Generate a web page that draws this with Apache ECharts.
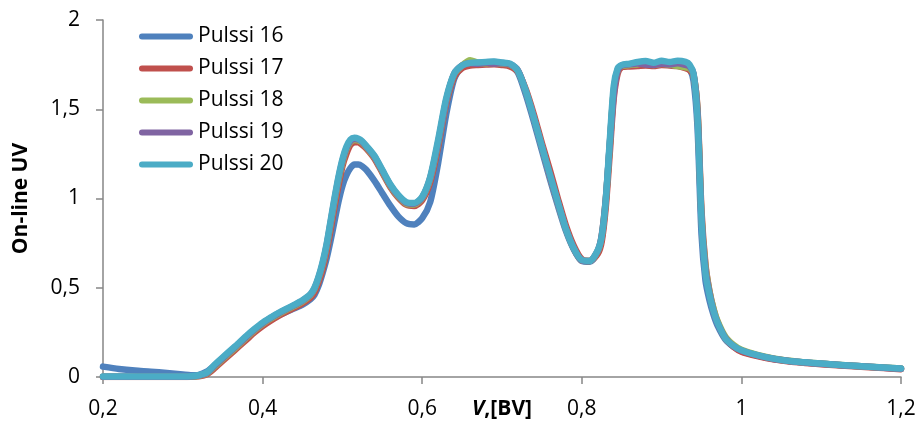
<!DOCTYPE html>
<html>
<head>
<meta charset="utf-8">
<script src="https://cdn.jsdelivr.net/npm/echarts@6/dist/echarts.min.js"></script>
<style>
  html, body { margin: 0; padding: 0; background: #fff; }
  #chart { width: 923px; height: 429px; }
</style>
</head>
<body>
<div id="chart"></div>
<script>
// Elution volume (BV) sampled for every pulse
const volume = [
  0.20, 0.22, 0.24, 0.26, 0.28, 0.30, 0.31, 0.32, 0.33, 0.34,
  0.35, 0.36, 0.37, 0.38, 0.39, 0.40, 0.41, 0.42, 0.43, 0.44,
  0.45, 0.46, 0.465, 0.47, 0.475, 0.48, 0.485, 0.49, 0.495, 0.50,
  0.505, 0.51, 0.515, 0.52, 0.525, 0.53, 0.54, 0.55, 0.56, 0.57,
  0.58, 0.59, 0.60, 0.61, 0.62, 0.63, 0.64, 0.65, 0.66, 0.67,
  0.68, 0.69, 0.70, 0.71, 0.72, 0.73, 0.74, 0.75, 0.76, 0.77,
  0.78, 0.79, 0.80, 0.81, 0.82, 0.825, 0.83, 0.835, 0.84, 0.845,
  0.85, 0.86, 0.87, 0.88, 0.89, 0.90, 0.91, 0.92, 0.93, 0.935,
  0.94, 0.945, 0.95, 0.955, 0.96, 0.965, 0.97, 0.98, 0.99, 1.00,
  1.02, 1.04, 1.06, 1.08, 1.10, 1.13, 1.16, 1.20
];

// On-line UV signal per pulse
const pulssi16 = [
  0.058, 0.045, 0.036, 0.030, 0.022, 0.014, 0.010, 0.012, 0.030, 0.065,
  0.105, 0.145, 0.185, 0.225, 0.262, 0.295, 0.322, 0.345, 0.366, 0.385,
  0.405, 0.435, 0.460, 0.510, 0.580, 0.660, 0.760, 0.870, 0.980, 1.070,
  1.130, 1.170, 1.190, 1.190, 1.180, 1.160, 1.100, 1.030, 0.960, 0.900,
  0.862, 0.855, 0.890, 0.980, 1.200, 1.470, 1.670, 1.740, 1.755, 1.760,
  1.762, 1.765, 1.760, 1.750, 1.705, 1.580, 1.430, 1.270, 1.110, 0.960,
  0.820, 0.715, 0.650, 0.645, 0.700, 0.780, 0.980, 1.300, 1.600, 1.720,
  1.742, 1.750, 1.755, 1.760, 1.752, 1.765, 1.760, 1.765, 1.750, 1.730,
  1.660, 1.400, 0.800, 0.540, 0.430, 0.350, 0.290, 0.210, 0.170, 0.145,
  0.120, 0.101, 0.089, 0.081, 0.074, 0.065, 0.057, 0.046
];
const pulssi17 = [
  0.000, 0.000, 0.000, 0.000, 0.000, 0.000, 0.001, 0.004, 0.015, 0.050,
  0.090, 0.130, 0.170, 0.210, 0.250, 0.285, 0.315, 0.342, 0.366, 0.388,
  0.413, 0.445, 0.475, 0.530, 0.600, 0.700, 0.820, 0.950, 1.070, 1.180,
  1.250, 1.300, 1.315, 1.315, 1.300, 1.280, 1.225, 1.145, 1.065, 1.005,
  0.965, 0.958, 0.990, 1.090, 1.290, 1.530, 1.680, 1.730, 1.745, 1.748,
  1.750, 1.752, 1.748, 1.740, 1.710, 1.610, 1.470, 1.310, 1.160, 1.000,
  0.850, 0.735, 0.660, 0.650, 0.690, 0.760, 0.950, 1.250, 1.560, 1.700,
  1.735, 1.740, 1.742, 1.745, 1.742, 1.748, 1.745, 1.742, 1.730, 1.720,
  1.690, 1.500, 0.930, 0.630, 0.480, 0.380, 0.310, 0.215, 0.170, 0.142,
  0.117, 0.099, 0.087, 0.079, 0.072, 0.063, 0.055, 0.044
];
const pulssi18 = [
  0.001, 0.001, 0.001, 0.001, 0.001, 0.001, 0.002, 0.007, 0.020, 0.060,
  0.100, 0.140, 0.180, 0.222, 0.262, 0.297, 0.326, 0.352, 0.376, 0.398,
  0.423, 0.458, 0.492, 0.550, 0.625, 0.725, 0.850, 0.980, 1.100, 1.200,
  1.275, 1.315, 1.328, 1.325, 1.312, 1.288, 1.232, 1.152, 1.072, 1.012,
  0.972, 0.966, 1.002, 1.110, 1.310, 1.545, 1.695, 1.745, 1.775, 1.760,
  1.758, 1.760, 1.756, 1.750, 1.715, 1.600, 1.450, 1.290, 1.125, 0.975,
  0.830, 0.720, 0.652, 0.650, 0.705, 0.790, 0.990, 1.290, 1.600, 1.720,
  1.742, 1.748, 1.752, 1.758, 1.748, 1.755, 1.750, 1.742, 1.735, 1.730,
  1.695, 1.490, 0.900, 0.620, 0.480, 0.385, 0.315, 0.225, 0.180, 0.152,
  0.124, 0.104, 0.091, 0.082, 0.075, 0.066, 0.058, 0.047
];
const pulssi19 = [
  0.002, 0.002, 0.002, 0.002, 0.002, 0.002, 0.003, 0.008, 0.022, 0.065,
  0.105, 0.145, 0.185, 0.227, 0.266, 0.301, 0.330, 0.356, 0.380, 0.402,
  0.427, 0.462, 0.497, 0.555, 0.632, 0.732, 0.860, 0.990, 1.110, 1.210,
  1.282, 1.322, 1.334, 1.330, 1.316, 1.291, 1.236, 1.156, 1.076, 1.016,
  0.976, 0.971, 1.006, 1.115, 1.315, 1.548, 1.698, 1.745, 1.758, 1.755,
  1.760, 1.756, 1.758, 1.752, 1.718, 1.600, 1.450, 1.290, 1.125, 0.975,
  0.830, 0.720, 0.652, 0.650, 0.708, 0.795, 0.995, 1.295, 1.580, 1.718,
  1.745, 1.752, 1.756, 1.750, 1.748, 1.755, 1.752, 1.758, 1.748, 1.740,
  1.700, 1.480, 0.890, 0.600, 0.470, 0.372, 0.305, 0.218, 0.174, 0.148,
  0.121, 0.102, 0.090, 0.081, 0.074, 0.065, 0.057, 0.046
];
const pulssi20 = [
  0.003, 0.003, 0.003, 0.003, 0.003, 0.003, 0.004, 0.010, 0.025, 0.070,
  0.110, 0.150, 0.190, 0.232, 0.270, 0.305, 0.333, 0.360, 0.383, 0.405,
  0.430, 0.465, 0.500, 0.560, 0.640, 0.740, 0.870, 1.000, 1.120, 1.220,
  1.290, 1.330, 1.340, 1.335, 1.320, 1.295, 1.240, 1.160, 1.080, 1.020,
  0.980, 0.975, 1.010, 1.120, 1.330, 1.560, 1.700, 1.745, 1.760, 1.762,
  1.765, 1.768, 1.762, 1.755, 1.715, 1.600, 1.450, 1.290, 1.135, 0.980,
  0.830, 0.720, 0.655, 0.650, 0.710, 0.790, 0.990, 1.320, 1.630, 1.730,
  1.748, 1.755, 1.765, 1.770, 1.760, 1.772, 1.765, 1.772, 1.765, 1.750,
  1.700, 1.450, 0.880, 0.580, 0.460, 0.370, 0.305, 0.215, 0.175, 0.150,
  0.122, 0.103, 0.090, 0.082, 0.075, 0.066, 0.058, 0.047
];

const seriesNames = ['Pulssi 16', 'Pulssi 17', 'Pulssi 18', 'Pulssi 19', 'Pulssi 20'];
const seriesValues = [pulssi16, pulssi17, pulssi18, pulssi19, pulssi20];
const seriesColors = ['#4F81BD', '#C0504D', '#9BBB59', '#8064A2', '#4BACC6'];

const axisGrey = '#868686';
const fontFamily = '"Open Sans", "Liberation Sans", sans-serif';
// Flat bar with rounded ends used as the legend key
const legendKey = 'path://M3,0 L51,0 A3,3 0 0 1 51,6 L3,6 A3,3 0 0 1 3,0 Z';

function decimalComma(v) {
  return String(Math.round(v * 10) / 10).replace('.', ',');
}

const chart = echarts.init(document.getElementById('chart'), null, { renderer: 'canvas' });

chart.setOption({
  animation: false,
  backgroundColor: '#ffffff',
  grid: {
    left: 103, right: 22, top: 20, bottom: 52,
    containLabel: false,
    outerBoundsMode: 'none'
  },
  legend: {
    orient: 'vertical',
    left: 139,
    top: 26,
    padding: 0,
    itemWidth: 54,
    itemHeight: 22,
    itemGap: 11,
    icon: legendKey,
    data: seriesNames,
    textStyle: { fontFamily: fontFamily, fontSize: 21, color: '#000' }
  },
  xAxis: {
    type: 'value',
    min: 0.2,
    max: 1.2,
    interval: 0.2,
    splitLine: { show: false },
    axisLine: { show: true, onZero: false, lineStyle: { color: axisGrey, width: 1.5 } },
    axisTick: { show: true, inside: false, length: 7, lineStyle: { color: axisGrey, width: 1.5 } },
    axisLabel: {
      margin: 22,
      color: '#000',
      fontFamily: fontFamily,
      fontSize: 21,
      formatter: decimalComma
    },
    name: '{i|V},[BV]',
    nameLocation: 'middle',
    nameGap: 22,
    nameMoveOverlap: false,
    nameTextStyle: {
      color: '#000',
      fontFamily: fontFamily,
      fontSize: 21,
      fontWeight: 'bold',
      verticalAlign: 'top',
      rich: {
        i: { fontFamily: fontFamily, fontSize: 21, fontWeight: 'bold', fontStyle: 'italic', color: '#000' }
      }
    }
  },
  yAxis: {
    type: 'value',
    min: 0,
    max: 2,
    interval: 0.5,
    splitLine: { show: false },
    axisLine: { show: true, lineStyle: { color: axisGrey, width: 1.5 } },
    axisTick: { show: true, inside: false, length: 7, lineStyle: { color: axisGrey, width: 1.5 } },
    axisLabel: {
      margin: 23,
      color: '#000',
      fontFamily: fontFamily,
      fontSize: 21,
      formatter: decimalComma
    },
    name: 'On-line UV',
    nameLocation: 'middle',
    nameGap: 71,
    nameMoveOverlap: false,
    nameTextStyle: {
      color: '#000',
      fontFamily: fontFamily,
      fontSize: 21,
      fontWeight: 'bold'
    }
  },
  series: seriesNames.map((name, k) => ({
    name: name,
    type: 'line',
    data: volume.map((v, i) => [v, seriesValues[k][i]]),
    showSymbol: false,
    symbol: 'none',
    smooth: 0.25,
    color: seriesColors[k],
    itemStyle: { color: seriesColors[k] },
    lineStyle: { width: 6.5, color: seriesColors[k], cap: 'round', join: 'round' },
    z: 2 + k
  }))
});
</script>
</body>
</html>
